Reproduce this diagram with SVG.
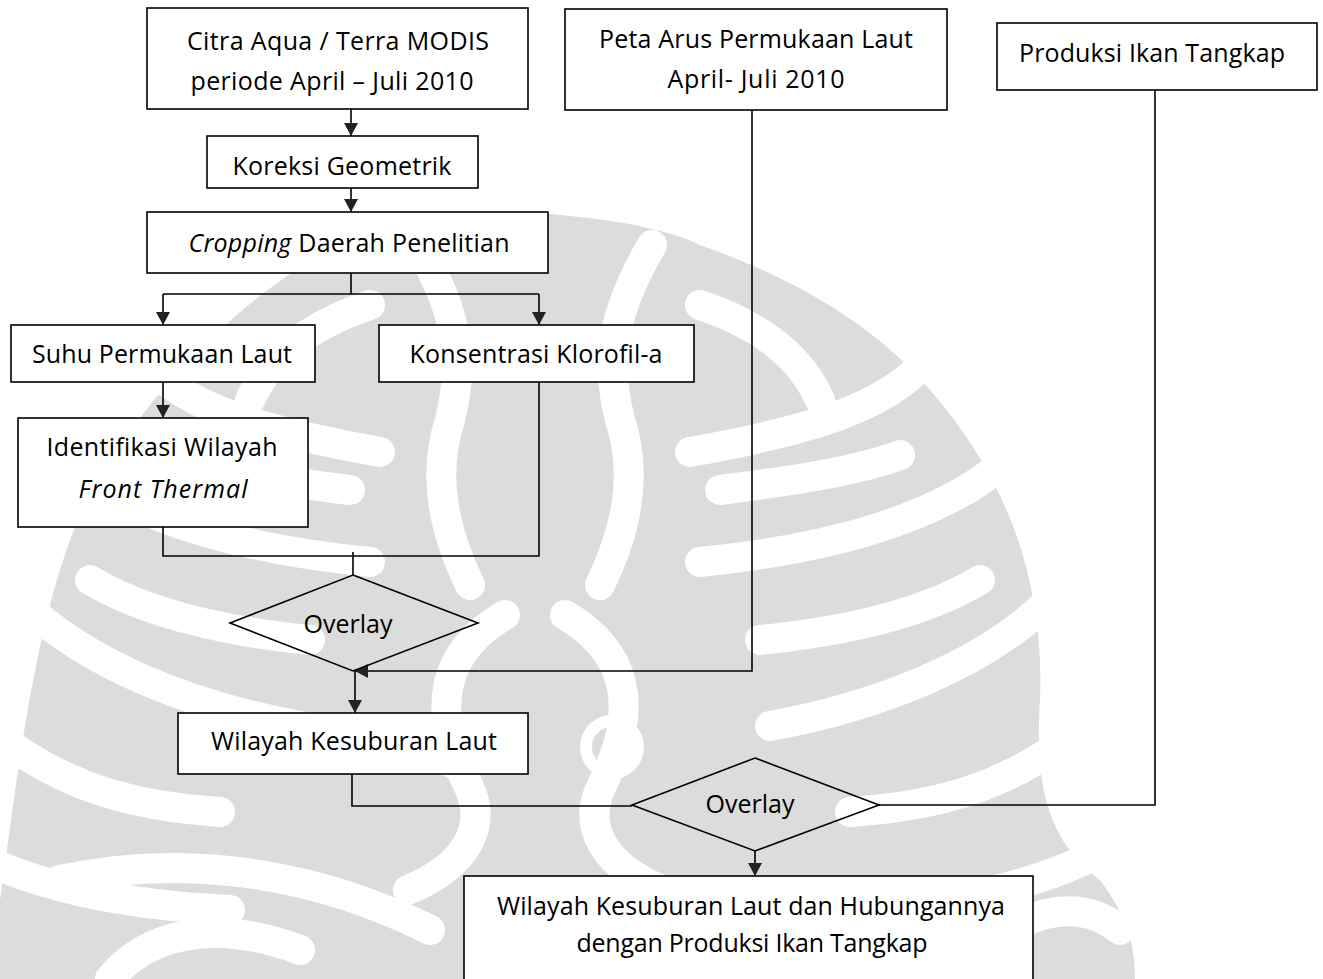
<svg xmlns="http://www.w3.org/2000/svg" width="1323" height="979" viewBox="0 0 1323 979">
<style>
.wm{fill:#dcdcdc;stroke:none}
.gap{fill:none;stroke:#fff;stroke-width:30;stroke-linecap:round}
.ring{stroke-width:12}
.box{fill:#fff;stroke:#000;stroke-width:1.6}
.dia{fill:none;stroke:#000;stroke-width:1.6}
.ln{fill:none;stroke:#000;stroke-width:1.6}
.t{font-family:"Open Sans","Liberation Sans",sans-serif;font-size:25px;fill:#000;text-anchor:middle}
.i{font-style:italic}
</style>
<defs>
<marker id="ah" markerUnits="userSpaceOnUse" markerWidth="15" markerHeight="15" refX="13" refY="7" orient="auto">
<path d="M0,0 L13,7 L0,14 Z" fill="#222"/>
</marker>
<g id="gapsR">
<path d="M690 452 C790 434 870 414 915 372"/>
<path d="M700 562 C820 550 935 522 1005 462"/>
<path d="M770 726 C880 706 985 664 1050 600"/>
<path d="M850 812 C940 806 1000 786 1055 748"/>
<path d="M840 910 C950 905 1040 885 1100 852"/>
<path d="M652 245 C620 300 602 350 620 420 C640 480 622 540 600 585"/>
<path d="M565 615 C625 650 642 705 602 785 C582 825 602 865 662 890"/>
<path d="M700 305 C760 325 800 355 820 400"/>
<path d="M720 490 C800 480 860 470 900 455"/>
<path d="M760 640 C860 630 930 610 980 580"/>
<circle class="ring" cx="612" cy="747" r="26"/>
</g>
</defs>
<g id="watermark">
<path class="wm" d="M0 979 L0 900 C20 760 40 560 110 460 C170 370 250 290 340 245 C420 215 480 205 560 215 C640 222 680 235 700 245 C800 280 880 330 930 390 C1000 470 1045 570 1040 700 C1035 780 1045 840 1100 880 C1130 920 1135 950 1135 979 Z"/>
<g class="gap">
<use href="#gapsR"/>
<use href="#gapsR" transform="matrix(-1 0 0 1 1070 0)"/>
<path d="M60 880 C200 850 330 880 430 930"/>
<path d="M1010 930 C1050 905 1090 905 1120 930"/>
<path d="M110 979 C150 930 220 920 300 950"/>
</g>
</g>
<g id="connectors">
<path class="ln" d="M351 109 V136" marker-end="url(#ah)"/>
<path class="ln" d="M351 188 V212" marker-end="url(#ah)"/>
<path class="ln" d="M351 273 V294 M163 294 H539"/>
<path class="ln" d="M163 294 V325" marker-end="url(#ah)"/>
<path class="ln" d="M539 294 V325" marker-end="url(#ah)"/>
<path class="ln" d="M163 382 V418" marker-end="url(#ah)"/>
<path class="ln" d="M163 527 V556 H539 V382"/>
<path class="ln" d="M353 552 V575"/>
<path class="ln" d="M752 110 V671 H355" marker-end="url(#ah)"/>
<path class="ln" d="M355 671 V713" marker-end="url(#ah)"/>
<path class="ln" d="M352 774 V806 H632"/>
<path class="ln" d="M1155 90 V805 H879"/>
<path class="ln" d="M755 851 V876" marker-end="url(#ah)"/>
</g>
<g id="n-citra">
<rect class="box" x="147" y="8" width="381" height="101"/>
<text class="t" x="338" y="50" textLength="302">Citra Aqua / Terra MODIS</text>
<text class="t" x="332" y="90" textLength="283">periode April – Juli 2010</text>
</g>
<g id="n-koreksi">
<rect class="box" x="207" y="136" width="271" height="52"/>
<text class="t" x="342" y="175" textLength="219">Koreksi Geometrik</text>
</g>
<g id="n-cropping">
<rect class="box" x="147" y="212" width="401" height="61"/>
<text class="t" x="349" y="252" textLength="321"><tspan class="i">Cropping</tspan> Daerah Penelitian</text>
</g>
<g id="n-suhu">
<rect class="box" x="11" y="325" width="304" height="57"/>
<text class="t" x="162" y="363" textLength="260">Suhu Permukaan Laut</text>
</g>
<g id="n-klorofil">
<rect class="box" x="379" y="325" width="315" height="57"/>
<text class="t" x="536" y="363" textLength="253">Konsentrasi Klorofil-a</text>
</g>
<g id="n-identifikasi">
<rect class="box" x="18" y="418" width="290" height="109"/>
<text class="t" x="162" y="456" textLength="231">Identifikasi Wilayah</text>
<text class="t i" x="163" y="498" textLength="169">Front Thermal</text>
</g>
<g id="n-overlay1">
<polygon class="dia" points="353,575 478,623 353,671 230,623"/>
<text class="t" x="348" y="633">Overlay</text>
</g>
<g id="n-peta">
<rect class="box" x="565" y="9" width="382" height="101"/>
<text class="t" x="756" y="48" textLength="314">Peta Arus Permukaan Laut</text>
<text class="t" x="756" y="88" textLength="177">April- Juli 2010</text>
</g>
<g id="n-produksi">
<rect class="box" x="997" y="23" width="320" height="67"/>
<text class="t" x="1152" y="62" textLength="266">Produksi Ikan Tangkap</text>
</g>
<g id="n-wilayah">
<rect class="box" x="178" y="713" width="350" height="61"/>
<text class="t" x="354" y="750" textLength="286">Wilayah Kesuburan Laut</text>
</g>
<g id="n-overlay2">
<polygon class="dia" points="755,758 879,805 755,851 632,805"/>
<text class="t" x="750" y="813">Overlay</text>
</g>
<g id="n-hasil">
<rect class="box" x="464" y="876" width="569" height="120"/>
<text class="t" x="751" y="915" textLength="508">Wilayah Kesuburan Laut dan Hubungannya</text>
<text class="t" x="752" y="952" textLength="351">dengan Produksi Ikan Tangkap</text>
</g>
</svg>
